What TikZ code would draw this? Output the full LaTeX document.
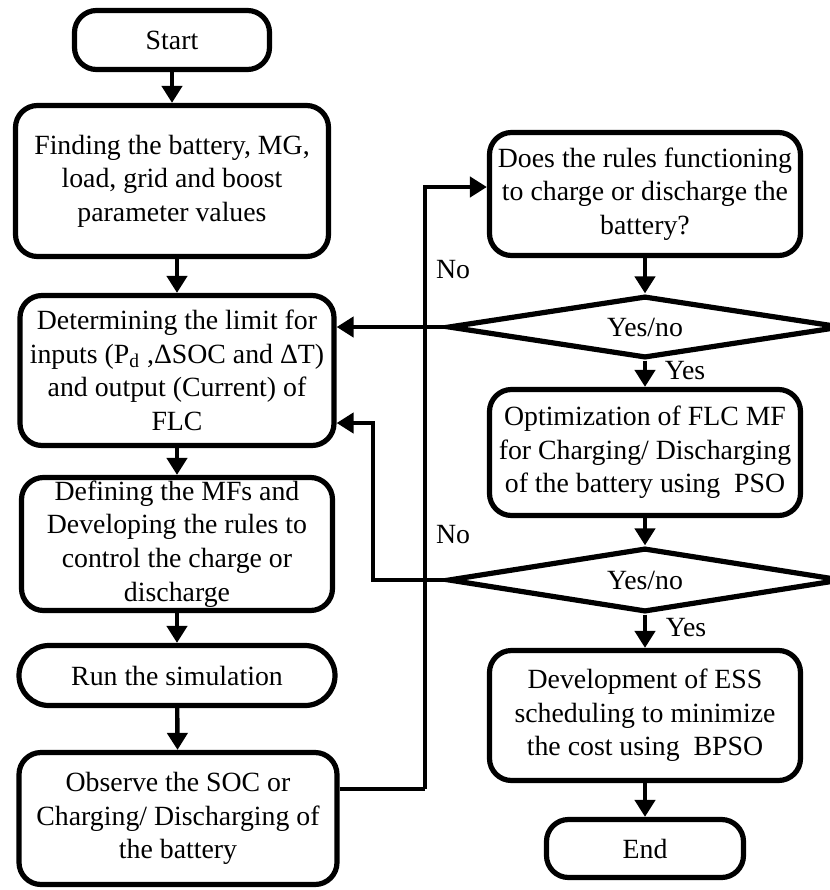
\documentclass[tikz,border=0pt]{standalone}
\usepackage{fontspec}
\setmainfont{Liberation Serif}
\usetikzlibrary{arrows.meta,shapes.geometric}

\begin{document}
\begin{tikzpicture}%
	[x=0.5pt, y=-0.5pt,
	box/.style={draw=black, line width=2.6pt, rounded corners=11pt, align=center, inner sep=1pt,
		font=\fontsize{13.9pt}{16.8pt}\selectfont},
	terminal/.style={box, minimum width=97.5pt, minimum height=29.5pt},
	decision/.style={draw=black, line width=2.6pt, diamond, shape aspect=6.35, inner sep=0pt,
		font=\fontsize{13.9pt}{16.8pt}\selectfont},
	flow/.style={line width=2.2pt, -{Triangle[length=8.5pt, width=10pt]}},
	line/.style={line width=2.2pt},
	lbl/.style={inner sep=0pt, font=\fontsize{13.9pt}{16.8pt}\selectfont}]
%
\useasboundingbox (0,0) rectangle (830,890);
%%
%% left column
%%
\node[terminal] (start) at (172,40) {Start};
\node[box, minimum width=156.5pt, minimum height=75.5pt] (find) at (172,181)
	{Finding the battery, MG,\\ load, grid and boost\\ parameter values};
\node[box, minimum width=157pt, minimum height=75pt] (det) at (177,370.5)
	{Determining the limit for\\ inputs (P\textsubscript{d} ,ΔSOC and ΔT)\\ and output (Current) of\\ FLC};
\node[box, minimum width=155.5pt, minimum height=66.5pt] (def) at (177,544)
	{Defining the MFs and\\ Developing the rules to\\ control the charge or\\ discharge};
\node[box, rounded corners=15pt, minimum width=158pt, minimum height=30pt] (run) at (177,675.5)
	{Run the simulation};
\node[box, minimum width=159pt, minimum height=66pt] (obs) at (178,818.5)
	{Observe the SOC or\\ Charging/ Discharging of\\ the battery};
%%
%% right column
%%
\node[box, minimum width=155.5pt, minimum height=61.5pt] (does) at (645,194)
	{Does the rules functioning\\ to charge or discharge the\\ battery?};
\node[decision, minimum width=197pt, minimum height=31pt] (dec1) at (645,327) {Yes/no};
\node[box, minimum width=155.5pt, minimum height=63pt] (opt) at (645,452.5)
	{Optimization of FLC MF\\ for Charging/ Discharging\\ of the battery using~ PSO};
\node[decision, minimum width=197pt, minimum height=32pt] (dec2) at (645,580) {Yes/no};
\node[box, minimum width=155.5pt, minimum height=65pt] (dev) at (645,715.5)
	{Development of ESS\\ scheduling to minimize\\ the cost using~ BPSO};
\node[terminal, minimum width=98.5pt, minimum height=29pt] (fin) at (645,848.5) {End};
%%
%% labels
%%
\node[lbl] (no1) at (453,270) {No};
\node[lbl] (no2) at (453,535) {No};
\node[lbl] (yes1) at (685,371) {Yes};
\node[lbl] (yes2) at (686,628) {Yes};
%%
%% turning points
%%
\coordinate (bus) at (425,789);
\coordinate (busturn) at (425,187);
\coordinate (loop) at (373,423);
%%
%% connectors
%%
\draw[flow] (start) -- (find);
\draw[flow] (find.south -| det.north) -- (det.north);
\draw[flow] (det) -- (def);
\draw[flow] (def) -- (run);
\draw[flow] (run) -- (obs);
\draw[line] (obs.east |- bus) -- (bus);
\draw[flow] (bus) -- (busturn) -- (does.west |- busturn);
\draw[flow] (does) -- (dec1);
\draw[flow] (dec1) -- (opt);
\draw[flow] (opt) -- (dec2);
\draw[flow] (dec2) -- (dev);
\draw[flow] (dev) -- (fin);
\draw[flow] (dec1.west) -- (det.east |- dec1.west);
\draw[flow] (dec2.west) -| (loop) -- (det.east |- loop);
\end{tikzpicture}
\end{document}
